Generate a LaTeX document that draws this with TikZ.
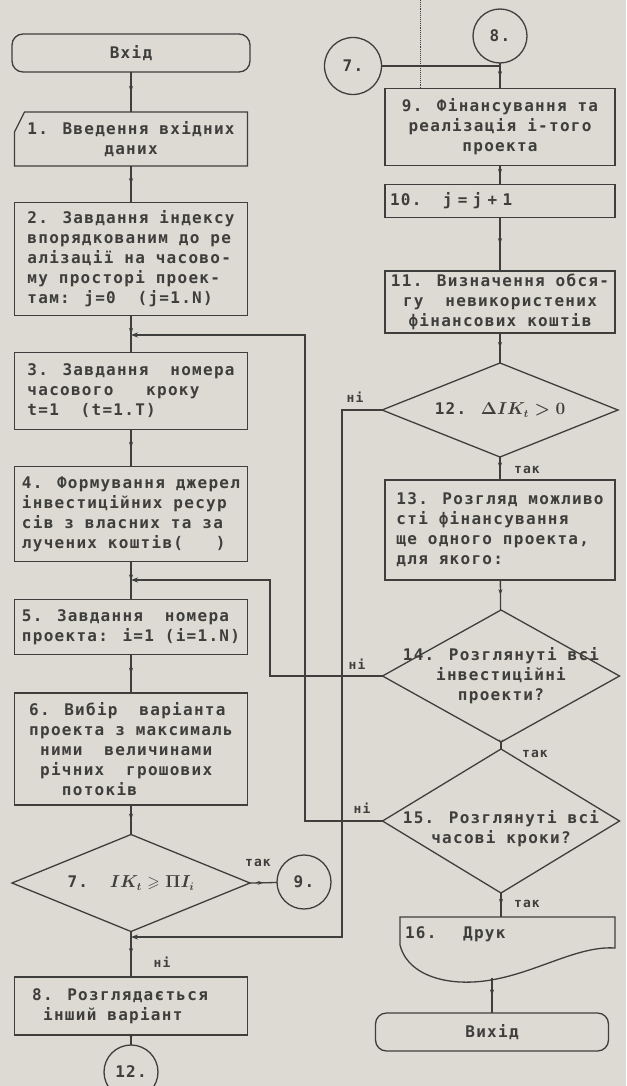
\documentclass[tikz,border=0pt]{standalone}
\usepackage{fontspec}
\usepackage{amsmath}
\usepackage{amssymb}
\usepackage{tikz}
\usetikzlibrary{calc, positioning, shapes.geometric, arrows.meta, decorations.markings}
\newfontfamily\prnfont[LetterSpace=8]{DejaVu Sans Mono}
\newcommand{\prnsize}{\prnfont\bfseries\fontsize{16}{20}\selectfont}
\newcommand{\lblsize}{\prnfont\bfseries\fontsize{13}{14}\selectfont}
\definecolor{paper}{RGB}{220,218,211}
\definecolor{ink}{RGB}{62,62,60}

\begin{document}
\begin{tikzpicture}[x=1pt, y=-1pt, line width=1.3pt, color=ink,
        box/.style={rectangle, draw, minimum width=233pt, inner sep=3pt, outer sep=0pt, align=left, font=\prnsize},
        term/.style={rectangle, draw, rounded corners=11pt, minimum width=238pt, minimum height=38pt, outer sep=0pt, font=\prnsize},
        dia/.style={diamond, draw, inner sep=0pt, outer sep=0pt},
        dtext/.style={align=center, inner sep=0pt, font=\prnsize\boldmath},
        circ/.style={circle, draw, minimum size=54pt, inner sep=0pt, outer sep=0pt, font=\prnsize},
        lbl/.style={inner sep=1pt, font=\lblsize},
        flow/.style={postaction={decorate}, decoration={markings, mark=at position 0.5 with {\arrow{Stealth[length=6pt, width=4pt]}}}},
        back/.style={-{Stealth[length=7pt, width=5pt]}}]
        \useasboundingbox (0,0) rectangle (626,1086);
        \fill[paper] (0,0) rectangle (626,1086);

        % left column
        \node[term] (start) at (131,53) {Вхід};
        \node[box, draw=none, align=center, minimum height=54pt] (b1) at (131,139) {1. Введення вхідних\\даних};
        \draw ($(b1.north west)+(10,0)$) -- (b1.north east) -- (b1.south east) -- (b1.south west) -- ($(b1.north west)+(0,20)$) -- cycle;
        \node[box, minimum height=113pt] (b2) at (131,259) {2. Завдання індексу\\впорядкованим до ре\\алізації на часово-\\му просторі проек-\\там: j=0~~(j=1.N)};
        \node[box, minimum height=77pt] (b3) at (131,391) {3. Завдання~~номера\\часового~~~кроку\\t=1~~(t=1.T)~~~~~~};
        \node[box, minimum height=95pt] (b4) at (131,514) {4. Формування джерел\\інвестиційних ресур\\сів з власних та за\\лучених коштів(~~~)};
        \node[box, minimum height=55pt] (b5) at (131,627) {5. Завдання~~номера\\проекта: і=1 (і=1.N)};
        \node[box, minimum height=112pt] (b6) at (131,749) {6. Вибір~~варіанта~\\проекта з максималь\\~ними~~величинами\\~річних~~грошових\\~~~потоків};
        \node[dia, minimum width=238pt, minimum height=97pt] (d7) at (131,883) {};
        \node[dtext] (t7) at (d7) {7.~~$IK_t \geqslant \Pi I_i$};
        \node[circ] (c9) at (304,882) {9.};
        \node[box, minimum height=58pt] (b8) at (131,1006) {8. Розглядається~~~\\~інший варіант};
        \node[circ] (c12) at (131,1072) {12.};

        % right column
        \node[circ] (c8) at (500,36) {8.};
        \node[circ, minimum size=57pt] (c7) at (353,66) {7.};
        \coordinate (j9) at (500,66);
        \coordinate (fold) at (420,0);
        \node[box, align=center, minimum width=230pt, minimum height=77pt] (b9) at (500,127) {9. Фінансування та\\реалізація і-того\\проекта};
        \node[box, minimum width=230pt, minimum height=33pt, text width=220pt] (b10) at (500,201) {10.~~~~j = j + 1};
        \node[box, align=center, minimum width=230pt, minimum height=60pt] (b11) at (500,302) {11. Визначення обся-\\гу~~невикористених\\фінансових коштів};
        \node[dia, minimum width=236pt, minimum height=94pt] (d12) at (500,410) {};
        \node[dtext] (t12) at (d12) {12. $\Delta IK_t > 0$};
        \node[box, minimum width=230pt, minimum height=100pt] (b13) at (500,530) {13. Розгляд можливо\\сті фінансування~~\\ще одного проекта,\\для якого:};
        \node[dia, minimum width=237pt, minimum height=132pt] (d14) at (501,676) {};
        \node[dtext] (t14) at (d14) {14. Розглянуті всі\\інвестиційні\\проекти?};
        \node[dia, minimum width=237pt, minimum height=144pt] (d15) at (501,821) {};
        \node[dtext] (t15) at ($(d15)+(0,8)$) {15. Розглянуті всі\\часові кроки?};
        \node[box, draw=none, anchor=north west, minimum width=215pt, minimum height=34pt, text width=205pt] (b16) at (400,917) {16.~~~~~Друк};
        \draw (b16.north west) -- (b16.north east) -- (615,948) .. controls (570,945) and (520,985) .. (460,982) .. controls (425,980) and (405,965) .. (400,945) -- cycle;
        \coordinate (w16) at (492,978);
        \node[term, minimum width=233pt] (stop) at (492,1032) {Вихід};

        % junctions on the left spine
        \coordinate (j3) at (131,335);
        \coordinate (j5) at (131,580);
        \coordinate (j8) at (131,937);
        \coordinate (l15) at (305,335);
        \coordinate (l14) at (270,580);
        \coordinate (l12) at (342,937);

        % connectors
        \draw[flow] (start) -- (b1);
        \draw[flow] (b1) -- (b2);
        \draw[flow] (b2) -- (b3);
        \draw[flow] (b3) -- (b4);
        \draw[flow] (b4) -- (b5);
        \draw[flow] (b5) -- (b6);
        \draw[flow] (b6) -- (d7);
        \draw[flow] (d7.east) -- (c9);
        \draw[flow] (d7) -- (b8);
        \draw[flow] (b8) -- (c12);
        \draw (c7) -- (j9);
        \draw (c8) -- (j9);
        \draw[flow] (j9) -- (b9);
        \draw[densely dotted, line width=0.9pt] (fold) -- (fold |- b9.north);
        \draw[flow] (b9) -- (b10);
        \draw[flow] (b10) -- (b11);
        \draw[flow] (b11) -- (d12);
        \draw[flow] (d12) -- (b13);
        \draw[flow] (b13) -- (d14);
        \draw[flow] (d14) -- (d15);
        \draw[flow] (d15) -- (d15 |- b16.north);
        \draw[flow] (w16) -- (stop);
        \draw[back] (d15.west) -| (l15) -- (j3);
        \draw[back] (d14.west) -| (l14) -- (j5);
        \draw[back] (d12.west) -| (l12) -- (j8);

        % branch labels
        \node[lbl] (yes7) at (258,863) {так};
        \node[lbl] (no7) at (162,962) {ні};
        \node[lbl] (no12) at (355,397) {ні};
        \node[lbl] (yes12) at (527,470) {так};
        \node[lbl] (no14) at (357,664) {ні};
        \node[lbl] (yes14) at (535,754) {так};
        \node[lbl] (no15) at (362,808) {ні};
        \node[lbl] (yes15) at (527,904) {так};
\end{tikzpicture}
\end{document}
